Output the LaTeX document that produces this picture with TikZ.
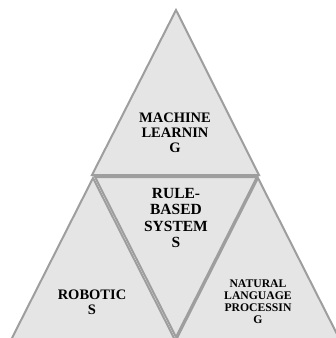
\documentclass[tikz,border=0pt]{standalone}
\usepackage{fontspec}
\setmainfont{Liberation Serif}
\begin{document}
\begin{tikzpicture}[x=1pt,y=-1pt,
  tri/.style={draw=black!38,fill=black!10,line width=2pt,line join=miter},
  lbl/.style={align=center,font=\bfseries,inner sep=0pt}]
\useasboundingbox (0,0) rectangle (336,338);
\clip (0,0) rectangle (336,337);
% top triangle
\path[tri] (176,10) -- (259,175) -- (92,175) -- cycle;
% left triangle
\path[tri] (93,178) -- (175,340) -- (11,340) -- cycle;
% middle inverted triangle
\path[tri] (95,177) -- (257,177) -- (176,337) -- cycle;
% right triangle
\path[tri] (258,178) -- (340,340) -- (176,340) -- cycle;
\node[lbl,font=\fontsize{14.5}{15}\selectfont\bfseries] (ml) at (175,133) {MACHINE\\LEARNIN\\G};
\node[lbl,font=\fontsize{15.5}{16.5}\selectfont\bfseries] (rb) at (176,218) {RULE-\\BASED\\SYSTEM\\S};
\node[lbl,font=\fontsize{14.5}{15}\selectfont\bfseries] (ro) at (92,302) {ROBOTIC\\S};
\node[lbl,font=\fontsize{11.7}{12}\selectfont\bfseries] (nl) at (258,302) {NATURAL\\LANGUAGE\\PROCESSIN\\G};
\end{tikzpicture}
\end{document}
